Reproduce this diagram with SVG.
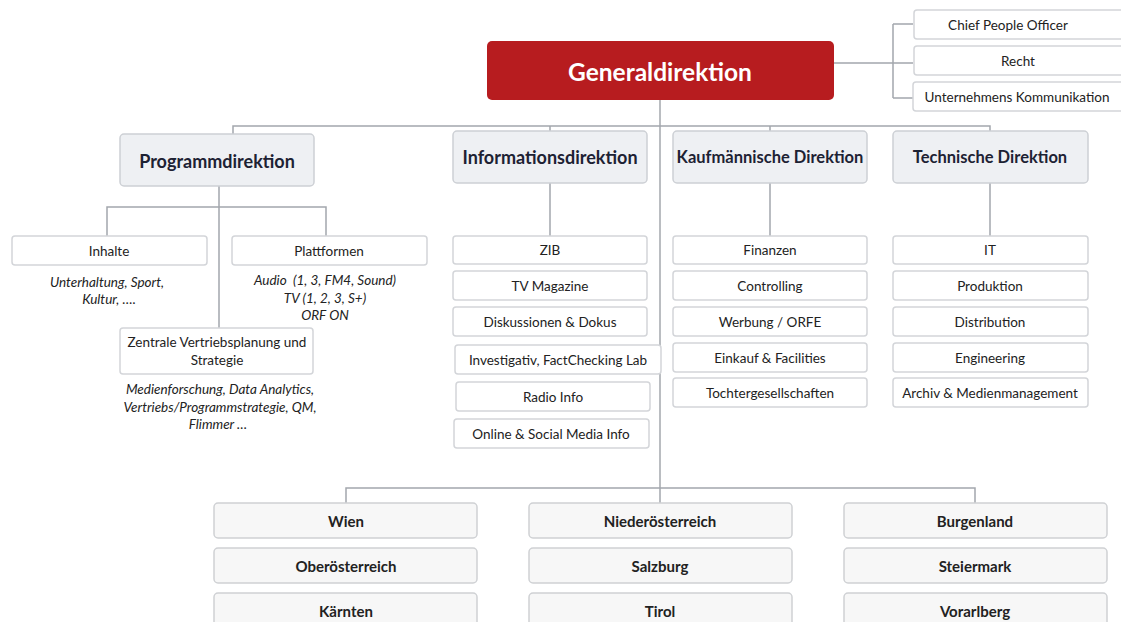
<svg xmlns="http://www.w3.org/2000/svg" width="1121" height="622" viewBox="0 0 1121 622">
<style>
text{font-family:Lato,"Open Sans","Liberation Sans",sans-serif;fill:#222;text-anchor:middle;dominant-baseline:central}
.conn{stroke:#A3A7AD;stroke-width:1.5;fill:none}
.dir rect{fill:#EEF0F3;stroke:#CDD0D5;stroke-width:1.5}
.dir text{font-size:17px;font-weight:bold;fill:#1d2233}
.sub rect{fill:#FFFFFF;stroke:#D3D5D9;stroke-width:1.5}
.sub text{font-size:13.5px}
.reg rect{fill:#F7F7F7;stroke:#CFD1D4;stroke-width:1.5}
.reg text{font-size:15px;font-weight:bold}
.note{font-size:13.5px;font-style:italic}
</style>
<rect width="1121" height="622" fill="#fff"/>
<g id="connectors" class="conn">
<path d="M834,63 H913 M893,24 V98 M893,24 H913 M893,98 H913"/>
<path d="M660,100 V488"/>
<path d="M233,134 V126 H990 V131 M550,126 V131 M770,126 V131"/>
<path d="M219,186 V328 M107,236 V207 H326 V236"/>
<path d="M550,183 V236 M770,183 V236 M990,183 V236"/>
<path d="M346,503 V488 H975 V503 M660,488 V503"/>
</g>
<g id="generaldirektion">
<rect x="487" y="41" width="347" height="59" rx="5" fill="#B71C1F"/>
<text x="660" y="71" style="font-size:24.5px;font-weight:bold;fill:#fff">Generaldirektion</text>
</g>
<g id="chief-people-officer" class="sub"><rect x="914" y="10" width="215" height="29" rx="3"/><text x="1008" y="24.5">Chief People Officer</text></g>
<g id="recht" class="sub"><rect x="914" y="46" width="215" height="29" rx="3"/><text x="1018" y="60.5">Recht</text></g>
<g id="unternehmens-kommunikation" class="sub"><rect x="913" y="82" width="215" height="29" rx="3"/><text x="1017" y="96.5">Unternehmens Kommunikation</text></g>

<g id="programmdirektion" class="dir"><rect x="120" y="134" width="194" height="52" rx="4"/><text x="217" y="161" style="font-size:18px">Programmdirektion</text></g>
<g id="informationsdirektion" class="dir"><rect x="453" y="131" width="194" height="52" rx="4"/><text x="550" y="157" style="font-size:18px">Informationsdirektion</text></g>
<g id="kaufmaennische-direktion" class="dir"><rect x="673" y="131" width="194" height="52" rx="4"/><text x="770" y="157" style="font-size:16.5px">Kaufmännische Direktion</text></g>
<g id="technische-direktion" class="dir"><rect x="893" y="131" width="195" height="52" rx="4"/><text x="990" y="157" style="font-size:16.5px">Technische Direktion</text></g>

<g id="inhalte" class="sub"><rect x="12" y="236" width="195" height="29" rx="3"/><text x="109" y="250.5">Inhalte</text>
<text class="note" x="107" y="282">Unterhaltung, Sport,</text><text class="note" x="109" y="299">Kultur, ….</text></g>
<g id="plattformen" class="sub"><rect x="232" y="236" width="195" height="29" rx="3"/><text x="329" y="250.5">Plattformen</text>
<text class="note" x="325" y="280" xml:space="preserve">Audio  (1, 3, FM4, Sound)</text><text class="note" x="325" y="298">TV (1, 2, 3, S+)</text><text class="note" x="325" y="315">ORF ON</text></g>
<g id="zentrale-vertriebsplanung" class="sub"><rect x="120" y="328" width="193" height="46" rx="3"/><text x="217" y="342">Zentrale Vertriebsplanung und</text><text x="217" y="360">Strategie</text>
<text class="note" x="220" y="389">Medienforschung, Data Analytics,</text><text class="note" x="220" y="407">Vertriebs/Programmstrategie, QM,</text><text class="note" x="218" y="424">Flimmer …</text></g>

<g id="zib" class="sub"><rect x="453" y="236" width="194" height="28" rx="3"/><text x="550" y="250">ZIB</text></g>
<g id="tv-magazine" class="sub"><rect x="453" y="271" width="194" height="29" rx="3"/><text x="550" y="285.5">TV Magazine</text></g>
<g id="diskussionen-dokus" class="sub"><rect x="453" y="307" width="194" height="29" rx="3"/><text x="550" y="321.5">Diskussionen &amp; Dokus</text></g>
<g id="investigativ" class="sub"><rect x="455" y="345" width="206" height="29" rx="3"/><text x="558" y="359.5">Investigativ, FactChecking Lab</text></g>
<g id="radio-info" class="sub"><rect x="456" y="382" width="194" height="29" rx="3"/><text x="553" y="396.5">Radio Info</text></g>
<g id="online-social" class="sub"><rect x="454" y="419" width="195" height="29" rx="3"/><text x="551" y="433.5">Online &amp; Social Media Info</text></g>

<g id="finanzen" class="sub"><rect x="673" y="236" width="194" height="28" rx="3"/><text x="770" y="250">Finanzen</text></g>
<g id="controlling" class="sub"><rect x="673" y="271" width="194" height="29" rx="3"/><text x="770" y="285.5">Controlling</text></g>
<g id="werbung" class="sub"><rect x="673" y="307" width="194" height="29" rx="3"/><text x="770" y="321.5">Werbung / ORFE</text></g>
<g id="einkauf" class="sub"><rect x="673" y="343" width="194" height="29" rx="3"/><text x="770" y="357.5">Einkauf &amp; Facilities</text></g>
<g id="tochtergesellschaften" class="sub"><rect x="673" y="378" width="194" height="29" rx="3"/><text x="770" y="392.5">Tochtergesellschaften</text></g>

<g id="it" class="sub"><rect x="893" y="236" width="195" height="28" rx="3"/><text x="990" y="250">IT</text></g>
<g id="produktion" class="sub"><rect x="893" y="271" width="195" height="29" rx="3"/><text x="990" y="285.5">Produktion</text></g>
<g id="distribution" class="sub"><rect x="893" y="307" width="195" height="29" rx="3"/><text x="990" y="321.5">Distribution</text></g>
<g id="engineering" class="sub"><rect x="893" y="343" width="195" height="29" rx="3"/><text x="990" y="357.5">Engineering</text></g>
<g id="archiv" class="sub"><rect x="893" y="378" width="195" height="29" rx="3"/><text x="990" y="392.5">Archiv &amp; Medienmanagement</text></g>

<g id="wien" class="reg"><rect x="214" y="503" width="263" height="35" rx="4"/><text x="346" y="520.5">Wien</text></g>
<g id="oberoesterreich" class="reg"><rect x="214" y="548" width="263" height="35" rx="4"/><text x="346" y="565.5">Oberösterreich</text></g>
<g id="kaernten" class="reg"><rect x="214" y="593" width="263" height="35" rx="4"/><text x="346" y="610.5">Kärnten</text></g>
<g id="niederoesterreich" class="reg"><rect x="529" y="503" width="263" height="35" rx="4"/><text x="660" y="520.5">Niederösterreich</text></g>
<g id="salzburg" class="reg"><rect x="529" y="548" width="263" height="35" rx="4"/><text x="660" y="565.5">Salzburg</text></g>
<g id="tirol" class="reg"><rect x="529" y="593" width="263" height="35" rx="4"/><text x="660" y="610.5">Tirol</text></g>
<g id="burgenland" class="reg"><rect x="844" y="503" width="263" height="35" rx="4"/><text x="975" y="520.5">Burgenland</text></g>
<g id="steiermark" class="reg"><rect x="844" y="548" width="263" height="35" rx="4"/><text x="975" y="565.5">Steiermark</text></g>
<g id="vorarlberg" class="reg"><rect x="844" y="593" width="263" height="35" rx="4"/><text x="975" y="610.5">Vorarlberg</text></g>
</svg>
